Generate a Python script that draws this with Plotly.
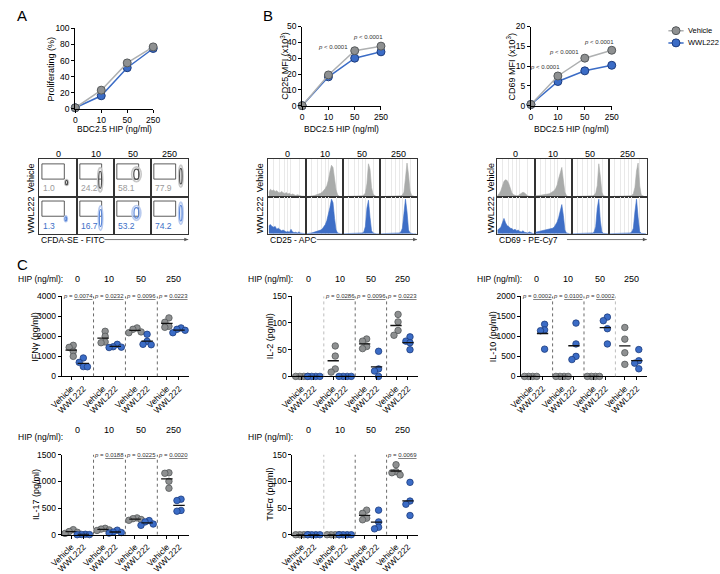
import numpy as np
import plotly.graph_objects as go

W, H = 720, 574
FONT = "Liberation Sans, Arial, sans-serif"

DOSES = ["0", "10", "50", "250"]
TREATS = ["Vehicle", "WWL222"]

# ---- panel A / B line charts (means) ----
PROLIF_VEH = [1.0, 23.0, 57.0, 77.0]
PROLIF_WWL = [1.0, 16.0, 51.0, 75.0]
CD25_VEH = [0.0, 19.4, 34.7, 37.6]
CD25_WWL = [0.0, 18.2, 30.0, 34.0]
CD69_VEH = [0.3, 7.5, 12.0, 14.0]
CD69_WWL = [0.3, 6.1, 8.8, 10.2]
CD25_P = [None, None, "p < 0.0001", "p < 0.0001"]
CD69_P = [None, "p < 0.0001", "p < 0.0001", "p < 0.0001"]

# ---- panel A flow plots: % proliferating per gate ----
A_PCT_VEH = ["1.0", "24.2", "58.1", "77.9"]
A_PCT_WWL = ["1.3", "16.7", "53.2", "74.2"]
# contour blob centre / half sizes (cell units)
A_BLOB_VEH = [(0.72, 0.38, 0.05, 0.08), (0.62, 0.45, 0.07, 0.33), (0.6, 0.6, 0.13, 0.2), (0.8, 0.55, 0.06, 0.3)]
A_BLOB_WWL = [(0.7, 0.4, 0.04, 0.08), (0.63, 0.42, 0.06, 0.33), (0.6, 0.56, 0.12, 0.2), (0.8, 0.55, 0.06, 0.3)]

# ---- panel B histograms (24 bins, normalised counts) ----
CD25_H_VEH = [
    [0.12, 0.2, 0.16, 0.18, 0.14, 0.16, 0.12, 0.1, 0.14, 0.1, 0.08, 0.11, 0.07, 0.09, 0.05, 0.07, 0.04, 0.03, 0.05, 0.03, 0.02, 0.01, 0.01, 0],
    [0, 0, 0, 0.01, 0.02, 0.03, 0.04, 0.05, 0.07, 0.09, 0.12, 0.16, 0.22, 0.3, 0.45, 0.68, 0.86, 0.8, 0.5, 0.18, 0.05, 0.01, 0, 0],
    [0, 0, 0, 0, 0, 0, 0, 0, 0, 0, 0, 0.01, 0.02, 0.04, 0.1, 0.35, 0.9, 0.75, 0.25, 0.06, 0.02, 0, 0, 0],
    [0, 0, 0, 0, 0, 0, 0, 0, 0, 0, 0, 0, 0.01, 0.02, 0.04, 0.12, 0.5, 0.92, 0.6, 0.15, 0.03, 0.01, 0, 0],
]
CD25_H_WWL = [
    [0.22, 0.25, 0.2, 0.18, 0.2, 0.12, 0.15, 0.1, 0.08, 0.1, 0.07, 0.05, 0.06, 0.04, 0.12, 0.05, 0.03, 0.04, 0.02, 0.05, 0.02, 0.01, 0, 0],
    [0, 0, 0.01, 0.02, 0.03, 0.04, 0.05, 0.06, 0.08, 0.1, 0.13, 0.18, 0.25, 0.36, 0.52, 0.72, 0.95, 0.85, 0.42, 0.1, 0.02, 0, 0, 0],
    [0, 0, 0, 0, 0, 0, 0, 0, 0, 0, 0, 0.01, 0.02, 0.05, 0.2, 0.7, 0.92, 0.45, 0.08, 0.02, 0, 0, 0, 0],
    [0, 0, 0, 0, 0, 0, 0, 0, 0, 0, 0, 0.01, 0.02, 0.05, 0.15, 0.55, 0.95, 0.6, 0.1, 0.02, 0, 0, 0, 0],
]
CD69_H_VEH = [
    [0.04, 0.08, 0.16, 0.3, 0.42, 0.46, 0.44, 0.36, 0.22, 0.1, 0.05, 0.03, 0.02, 0.03, 0.06, 0.1, 0.12, 0.1, 0.06, 0.02, 0.01, 0, 0, 0],
    [0.02, 0.02, 0.03, 0.04, 0.04, 0.05, 0.05, 0.06, 0.07, 0.08, 0.1, 0.12, 0.16, 0.22, 0.32, 0.5, 0.7, 0.8, 0.45, 0.12, 0.03, 0, 0, 0],
    [0, 0, 0, 0, 0, 0, 0, 0, 0, 0, 0, 0, 0.01, 0.02, 0.04, 0.1, 0.3, 0.9, 0.55, 0.12, 0.02, 0, 0, 0],
    [0, 0, 0, 0, 0, 0, 0, 0, 0, 0, 0, 0, 0.01, 0.02, 0.03, 0.08, 0.25, 0.7, 0.92, 0.3, 0.04, 0.01, 0, 0],
]
CD69_H_WWL = [
    [0.1, 0.14, 0.18, 0.3, 0.42, 0.3, 0.22, 0.2, 0.15, 0.14, 0.1, 0.12, 0.08, 0.1, 0.06, 0.05, 0.08, 0.04, 0.03, 0.02, 0.05, 0.02, 0.01, 0],
    [0.04, 0.05, 0.05, 0.06, 0.07, 0.08, 0.08, 0.09, 0.1, 0.11, 0.12, 0.15, 0.18, 0.25, 0.32, 0.45, 0.65, 0.8, 0.5, 0.1, 0.02, 0, 0, 0],
    [0, 0, 0, 0, 0, 0, 0, 0, 0, 0, 0, 0, 0.01, 0.02, 0.05, 0.2, 0.7, 0.95, 0.35, 0.05, 0.01, 0, 0, 0],
    [0, 0, 0, 0, 0, 0, 0, 0, 0, 0, 0, 0, 0.01, 0.02, 0.05, 0.15, 0.6, 0.95, 0.45, 0.06, 0.01, 0, 0, 0],
]

# ---- panel C cytokines (pg/ml), 4 replicates per dose ----
IFNG_VEH = [[1550, 1450, 1250, 1000], [2250, 2000, 1720, 1680], [2420, 2350, 2220, 2180], [2920, 2700, 2500, 2450]]
IFNG_WWL = [[920, 700, 490, 480], [1600, 1480, 1460, 1440], [2100, 1750, 1600, 1580], [2420, 2350, 2300, 2180]]
IFNG_P = ["0.0074", "0.0232", "0.0096", "0.0223"]
IL2_VEH = [[0, 0, 0, 0], [57, 38, 14, 8], [70, 66, 56, 52], [116, 102, 86, 77]]
IL2_WWL = [[0, 0, 0, 0], [0, 0, 0, 0], [47, 14, 10, 0], [74, 66, 63, 50]]
IL2_P = [None, "0.0286", "0.0096", "0.0223"]
IL10_VEH = [[0, 0, 0, 0], [0, 0, 0, 0], [0, 0, 0, 0], [1220, 930, 590, 300]]
IL10_WWL = [[1300, 1160, 1140, 680], [1330, 810, 500, 420], [1480, 1390, 1190, 810], [670, 390, 330, 190]]
IL10_P = ["0.0002", "0.0100", "0.0002", None]
IL17_VEH = [[95, 60, 45, 25], [120, 105, 90, 80], [315, 300, 285, 270], [1160, 1150, 1000, 870]]
IL17_WWL = [[8, 5, 2, 0], [85, 50, 40, 30], [265, 240, 200, 175], [665, 640, 455, 440]]
IL17_P = [None, "0.0188", "0.0225", "0.0020"]
TNF_VEH = [[0, 0, 0, 0], [0, 0, 0, 0], [46, 40, 31, 28], [131, 118, 116, 112]]
TNF_WWL = [[0, 0, 0, 0], [0, 0, 0, 0], [46, 24, 14, 11], [98, 63, 57, 36]]
TNF_P = [None, None, None, "0.0069"]

# colours
GREY_FILL, GREY_EDGE, GREY_LINE = "#8e9091", "#55595b", "#aeb0b1"
BLUE_FILL, BLUE_EDGE, BLUE_LINE = "#3b6cc6", "#1d3c7e", "#3b6cc6"
HIST_GREY, HIST_BLUE = "#a9abaa", "#3e6ec6"
TXT_GREY, TXT_BLUE = "#9a9a9a", "#3d6fc7"

fig = go.Figure()
axes = {}
annots = []
shapes = []
count = [0]


def add_axes(x0, x1, y0, y1, xa, ya):
    count[0] += 1
    s = "" if count[0] == 1 else str(count[0])
    xd = dict(domain=[x0 / W, x1 / W], anchor="y" + s)
    yd = dict(domain=[1 - y1 / H, 1 - y0 / H], anchor="x" + s)
    xd.update(xa)
    yd.update(ya)
    axes["xaxis" + s] = xd
    axes["yaxis" + s] = yd
    return "x" + s, "y" + s


def text(x, y, t, size=8, color="black", xanchor="center", yanchor="middle", angle=0, xref="paper", yref="paper"):
    if xref == "paper":
        x = x / W
    if yref == "paper":
        y = 1 - y / H
    annots.append(dict(x=x, y=y, text=t, showarrow=False, xref=xref, yref=yref, xanchor=xanchor,
                       yanchor=yanchor, textangle=angle, font=dict(size=size, color=color, family=FONT)))


TICKF = dict(size=8.5, color="black", family=FONT)
AX = dict(showline=True, linecolor="black", linewidth=1, ticks="outside", ticklen=3, tickwidth=1,
          tickcolor="black", showgrid=False, zeroline=False, tickfont=TICKF)
CELL = dict(range=[0, 1], showline=True, mirror=True, linecolor="#333", linewidth=1, ticks="",
            showticklabels=False, showgrid=False, zeroline=False, fixedrange=True)


# ---------- line charts ----------
def line_chart(x0, x1, y0, y1, veh, wwl, ymax, dtick, ytitle, ytx, pvals, pdx, pdy):
    xa, ya = add_axes(x0, x1, y0, y1,
                      dict(AX, range=[0, 3], tickvals=[0, 1, 2, 3], ticktext=DOSES),
                      dict(AX, range=[0, ymax], dtick=dtick))
    for vals, lc, fc, ec in [(wwl, BLUE_LINE, BLUE_FILL, BLUE_EDGE), (veh, GREY_LINE, GREY_FILL, GREY_EDGE)]:
        fig.add_trace(go.Scatter(x=[0, 1, 2, 3], y=vals, xaxis=xa, yaxis=ya, mode="lines+markers",
                                 line=dict(color=lc, width=1.5), cliponaxis=False, showlegend=False,
                                 marker=dict(size=8, color=fc, line=dict(color=ec, width=1))))
    text((x0 + x1) / 2, 127, "BDC2.5 HIP (ng/ml)", size=8.5)
    text(ytx, (y0 + y1) / 2, ytitle, size=9, angle=-90)
    # p-value labels sit just left/above the vehicle point (pixel placement)
    for i, p in enumerate(pvals):
        if p:
            px = x0 + (i + pdx[i]) / 3 * (x1 - x0)
            py = y1 - veh[i] / ymax * (y1 - y0) - pdy[i]
            text(px, py, p.replace("p", "<i>p</i>", 1), size=6, color="#333", xanchor="right")


line_chart(65, 145, 24, 106, PROLIF_VEH, PROLIF_WWL, 100, 20, "Proliferating (%)", 40, [None] * 4,
           [0] * 4, [0] * 4)
line_chart(298, 379, 22, 103, CD25_VEH, CD25_WWL, 50, 10, "CD25 MFI (x10<sup>3</sup>)", 280, CD25_P,
           [0, 0, -0.18, 0.15], [0, 0, 4, 9])
line_chart(533, 616, 22, 103, CD69_VEH, CD69_WWL, 20, 5, "CD69 MFI (x10<sup>3</sup>)", 513, CD69_P,
           [0, 0.17, -0.15, 0.15], [0, 9, 6, 8])

# legend key drawn in its own little box
lx, ly = add_axes(674, 690, 20, 45, dict(CELL, showline=False, range=[0, 1]),
                  dict(CELL, showline=False, range=[-0.5, 1.5]))
for row, name, lc, fc, ec in [(1, TREATS[0], GREY_LINE, GREY_FILL, GREY_EDGE),
                              (0, TREATS[1], BLUE_LINE, BLUE_FILL, BLUE_EDGE)]:
    fig.add_trace(go.Scatter(x=[0, 1], y=[row, row], xaxis=lx, yaxis=ly, mode="lines", showlegend=False,
                             line=dict(color=lc, width=1.5), hoverinfo="skip"))
    fig.add_trace(go.Scatter(x=[0.5], y=[row], xaxis=lx, yaxis=ly, mode="markers", showlegend=False,
                             marker=dict(size=8, color=fc, line=dict(color=ec, width=1)), hoverinfo="skip"))
    text(692, 26 if row else 38, name, size=7.5, xanchor="left")


# ---------- flow grids ----------
ROW_Y = [158, 196, 234]


def grid_labels(xs, row_x, xlabel, arrow_x0):
    for c, d in enumerate(DOSES):
        text((xs[c] + xs[c + 1]) / 2, 152, d, size=9)
    for r, t in enumerate(TREATS):
        text(row_x, (ROW_Y[r] + ROW_Y[r + 1]) / 2, t, size=9, angle=-90)
    text(xs[0], 240, xlabel, size=8.5, xanchor="left")
    ya = 1 - 240 / H
    shapes.append(dict(type="line", xref="paper", yref="paper", x0=arrow_x0 / W, x1=xs[-1] / W, y0=ya, y1=ya,
                       line=dict(color="#555", width=0.8)))
    tip = xs[-1] / W
    shapes.append(dict(type="path", xref="paper", yref="paper", fillcolor="#555", line=dict(width=0),
                       path=f"M {tip},{ya} L {tip - 4 / W},{ya + 1.8 / H} L {tip - 4 / W},{ya - 1.8 / H} Z"))


A_X = [28, 67, 105, 143, 181]
for r, (pcts, blobs, tc, outer, inner) in enumerate([
        (A_PCT_VEH, A_BLOB_VEH, TXT_GREY, "#c8c8c8", "#4d4d4d"),
        (A_PCT_WWL, A_BLOB_WWL, TXT_BLUE, "#b9cbef", "#5a86d8")]):
    for c in range(4):
        xa, ya = add_axes(A_X[c], A_X[c + 1], ROW_Y[r], ROW_Y[r + 1], dict(CELL), dict(CELL))
        fig.add_trace(go.Scatter(x=[0.07, 0.66, 0.66, 0.07, 0.07], y=[0.47, 0.47, 0.88, 0.88, 0.47],
                                 xaxis=xa, yaxis=ya, mode="lines", line=dict(color="#333", width=0.8),
                                 showlegend=False, hoverinfo="skip"))
        cx, cy, rx, ry = blobs[c]
        shapes.append(dict(type="circle", xref=xa, yref=ya, x0=cx - rx, x1=cx + rx, y0=cy - ry, y1=cy + ry,
                           line=dict(color=outer, width=1.6), fillcolor="rgba(0,0,0,0)"))
        shapes.append(dict(type="circle", xref=xa, yref=ya, x0=cx - rx * 0.55, x1=cx + rx * 0.55,
                           y0=cy - ry * 0.7, y1=cy + ry * 0.7, line=dict(color=inner, width=1.2),
                           fillcolor="rgba(0,0,0,0)"))
        text(0.05, 0.03, pcts[c], size=8.5, color=tc, xanchor="left", yanchor="bottom", xref=xa, yref=ya)
grid_labels(A_X, 20, "CFDA-SE - FITC", 95)

BIN_X = (np.arange(24) + 0.5) / 24
GRID_TICKS = [0.14, 0.3, 0.42, 0.52, 0.6, 0.82]


def hist_grid(xs, hv, hw, row_x, xlabel, arrow_x0):
    for r, (hs, col) in enumerate([(hv, HIST_GREY), (hw, HIST_BLUE)]):
        for c in range(4):
            xa, ya = add_axes(xs[c], xs[c + 1], ROW_Y[r], ROW_Y[r + 1],
                              dict(CELL, showgrid=True, tickvals=GRID_TICKS, gridcolor="#e9e9e9", gridwidth=0.8),
                              dict(CELL, range=[0, 1.02]))
            fig.add_trace(go.Scatter(x=BIN_X, y=hs[c], xaxis=xa, yaxis=ya, mode="lines", fill="tozeroy",
                                     line=dict(color=col, width=0.6), fillcolor=col, showlegend=False,
                                     hoverinfo="skip"))
    grid_labels(xs, row_x, xlabel, arrow_x0)


hist_grid([263, 302, 340, 378, 416], CD25_H_VEH, CD25_H_WWL, 255, "CD25 - APC", 313)
hist_grid([498, 537, 575, 613, 652], CD69_H_VEH, CD69_H_WWL, 492, "CD69 - PE-Cy7", 570)


# ---------- cytokine strip plots ----------
BASE = [0.3, 0.68]


def swarm(vals, pxu, pyu, d=4.2):
    placed, offs = [], []
    for v in vals:
        for k in [0, -1, 1, -2, 2, -3, 3]:
            ox = k * d
            if all(abs(ox - px) >= d * 0.95 or abs((v - pv) * pyu) >= 5 for px, pv in placed):
                break
        placed.append((ox, v))
        offs.append(ox / pxu)
    return offs


def strip(x0, x1, y0, y1, veh, wwl, pvals, ymax, dtick, ytitle, ytx, div_cols):
    tv, tt = [], []
    for g in range(4):
        tv += [g + BASE[0], g + BASE[1]]
        tt += TREATS
    xa, ya = add_axes(x0, x1, y0, y1,
                      dict(AX, range=[0, 4], tickvals=tv, ticktext=tt, tickangle=-45),
                      dict(AX, range=[0, ymax], dtick=dtick))
    pxu = (x1 - x0) / 4
    pyu = (y1 - y0) / ymax
    for g in range(3):
        shapes.append(dict(type="line", xref=xa, yref=ya, x0=g + 1, x1=g + 1, y0=0, y1=ymax,
                           line=dict(color=div_cols[g], width=1, dash="dot")))
    for t, (data, fc, ec) in enumerate([(veh, GREY_FILL, GREY_EDGE), (wwl, BLUE_FILL, BLUE_EDGE)]):
        xs, ys, mx, my = [], [], [], []
        for g in range(4):
            offs = swarm(data[g], pxu, pyu)
            shift = (max(offs) + min(offs)) / 2
            for v, o in zip(data[g], offs):
                xs.append(g + BASE[t] + o - shift)
                ys.append(v)
            m = float(np.mean(data[g]))
            mx += [g + BASE[t] - 0.18, g + BASE[t] + 0.18, None]
            my += [m, m, None]
        fig.add_trace(go.Scatter(x=xs, y=ys, xaxis=xa, yaxis=ya, mode="markers", showlegend=False,
                                 cliponaxis=False,
                                 marker=dict(size=6.5, color=fc, line=dict(color=ec, width=0.8))))
        fig.add_trace(go.Scatter(x=mx, y=my, xaxis=xa, yaxis=ya, mode="lines", showlegend=False,
                                 cliponaxis=False, line=dict(color="#111", width=1.3)))
    for g, p in enumerate(pvals):
        if p:
            text(g + 0.5, ymax, "<i>p</i> = <u>" + p + "</u>", size=6, color="#333", xref=xa, yref=ya)
    text(ytx, (y0 + y1) / 2, ytitle, size=9, angle=-90)
    hy = y0 - 18
    text(x0 + 3, hy, "HIP (ng/ml):", size=8.5, xanchor="right")
    for g, d in enumerate(DOSES):
        annots.append(dict(x=g + 0.5, y=1 - hy / H, xref=xa, yref="paper", text=d, showarrow=False,
                           font=dict(size=9, color="black", family=FONT)))


DK, LT = "#6a6a6a", "#bdbdbd"
strip(51, 182, 298, 380, IFNG_VEH, IFNG_WWL, IFNG_P, 4000, 1000, "IFNγ (pg/ml)", 24, [DK, DK, DK])
strip(288, 417, 298, 380, IL2_VEH, IL2_WWL, IL2_P, 150, 50, "IL-2 (pg/ml)", 265, [LT, DK, DK])
strip(523, 652, 298, 380, IL10_VEH, IL10_WWL, IL10_P, 2000, 500, "IL-10 (pg/ml)", 494, [DK, DK, LT])
strip(51, 182, 460, 542, IL17_VEH, IL17_WWL, IL17_P, 1500, 500, "IL-17 (pg/ml)", 24, [DK, DK, DK])
strip(288, 417, 460, 542, TNF_VEH, TNF_WWL, TNF_P, 150, 50, "TNFα (pg/ml)", 265, [LT, DK, DK])

# panel letters
text(3, 0, "A", size=15, xanchor="left", yanchor="top")
text(256, 0, "B", size=15, xanchor="left", yanchor="top")
text(3, 255, "C", size=15, xanchor="left", yanchor="top")

fig.update_layout(
    width=W, height=H, autosize=False,
    margin=dict(l=0, r=0, t=0, b=0),
    paper_bgcolor="white", plot_bgcolor="white",
    font=dict(family=FONT, size=8, color="black"),
    annotations=annots, shapes=shapes, showlegend=False,
    **axes,
)

fig.write_html("out.html", config={"displayModeBar": False},
               post_script="document.body.style.margin='0';")
